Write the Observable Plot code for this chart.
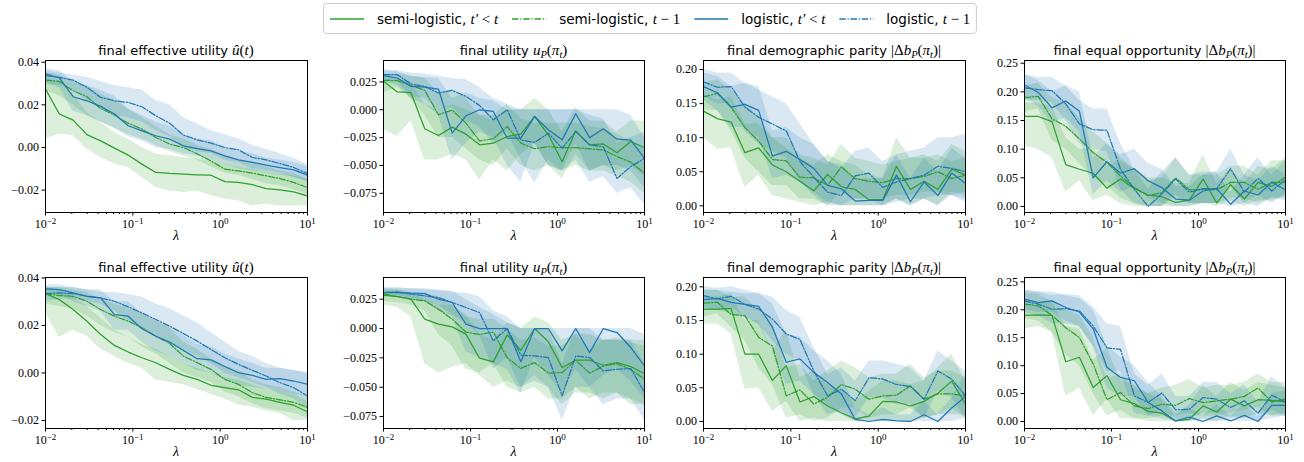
<!DOCTYPE html>
<html><head><meta charset="utf-8">
<script src="https://cdn.jsdelivr.net/npm/d3@7"></script>
<script src="https://cdn.jsdelivr.net/npm/@observablehq/plot@0.6"></script>
<style>
body{margin:0;background:#fff;}
#fig{position:relative;width:1304px;height:462px;overflow:hidden;background:#fff;}
</style></head><body><div id="fig"></div>
<script>
// ---------- shared axes data ----------
const lambdas = [0.01, 0.0144, 0.0207, 0.0298, 0.0428, 0.0616, 0.0886, 0.127, 0.183, 0.264, 0.379, 0.546, 0.785, 1.13, 1.62, 2.34, 3.36, 4.83, 6.95, 10];
const majorTicksX = [0.01, 0.1, 1, 10];
const minorTicksX = [0.02,0.03,0.04,0.05,0.06,0.07,0.08,0.09,0.2,0.3,0.4,0.5,0.6,0.7,0.8,0.9,2,3,4,5,6,7,8,9];
const yTicksEffUtil = [-0.02, 0, 0.02, 0.04];
const yTicksUtil = [-0.075, -0.05, -0.025, 0, 0.025];
const yTicksDP = [0, 0.05, 0.1, 0.15, 0.2];
const yTicksEO = [0, 0.05, 0.1, 0.15, 0.2, 0.25];
const seriesNames = ["semi-logistic, ", "semi-logistic, ", "logistic, ", "logistic, "];
const seriesMath = [
  [["t′","i"],[" < ","n"],["t","i"]],
  [["t","i"],[" − 1","n"]],
  [["t′","i"],[" < ","n"],["t","i"]],
  [["t","i"],[" − 1","n"]]
];
const panelTitles = ["final effective utility ", "final utility ", "final demographic parity ", "final equal opportunity "];
const panelTitleMath = [
  [["û","i"],["(","n"],["t","i"],[")","n"]],
  [["u","i"],["P","isub"],["(","n"],["π","i"],["t","isub"],[")","n"]],
  [["|Δ","n"],["b","i"],["P","isub"],["(","n"],["π","i"],["t","isub"],[")|","n"]],
  [["|Δ","n"],["b","i"],["P","isub"],["(","n"],["π","i"],["t","isub"],[")|","n"]]
];

// ---------- Row 1, final effective utility ----------
const r1EffUtil_semiPast    = [0.0274, 0.0157, 0.0128, 0.0060, 0.0031, -0.0003, -0.0036, -0.0078, -0.0117, -0.0122, -0.0125, -0.0128, -0.0130, -0.0160, -0.0164, -0.0174, -0.0193, -0.0199, -0.0208, -0.0227];
const r1EffUtil_semiPast_lo = [0.0039, 0.0063, 0.0055, -0.0008, -0.0047, -0.0078, -0.0094, -0.0141, -0.0188, -0.0204, -0.0211, -0.0204, -0.0227, -0.0243, -0.0250, -0.0274, -0.0266, -0.0274, -0.0274, -0.0274];
const r1EffUtil_semiPast_hi = [0.0329, 0.0305, 0.0250, 0.0164, 0.0117, 0.0070, 0.0039, 0.0000, -0.0031, -0.0039, -0.0047, -0.0055, -0.0063, -0.0078, -0.0094, -0.0102, -0.0117, -0.0125, -0.0133, -0.0149];
const r1EffUtil_semiLast    = [0.0316, 0.0310, 0.0266, 0.0238, 0.0183, 0.0152, 0.0114, 0.0086, 0.0047, 0.0016, 0.0000, -0.0030, -0.0063, -0.0102, -0.0110, -0.0120, -0.0133, -0.0146, -0.0164, -0.0188];
const r1EffUtil_semiLast_lo = [0.027, 0.024, 0.020, 0.015, 0.012, 0.009, 0.006, 0.004, 0.001, -0.002, -0.004, -0.006, -0.009, -0.012, -0.013, -0.015, -0.017, -0.018, -0.020, -0.022];
const r1EffUtil_semiLast_hi = [0.035, 0.034, 0.031, 0.029, 0.025, 0.022, 0.018, 0.014, 0.010, 0.006, 0.004, 0.001, -0.001, -0.004, -0.006, -0.007, -0.009, -0.011, -0.012, -0.015];
const r1EffUtil_logPast     = [0.0345, 0.0326, 0.0238, 0.0219, 0.0193, 0.0157, 0.0102, 0.0078, 0.0055, 0.0039, 0.0008, -0.0005, -0.0016, -0.0039, -0.0058, -0.0070, -0.0083, -0.0094, -0.0105, -0.0130];
const r1EffUtil_logPast_lo  = [0.030, 0.028, 0.017, 0.015, 0.012, 0.009, 0.005, 0.003, 0.000, -0.001, -0.003, -0.004, -0.006, -0.008, -0.010, -0.011, -0.012, -0.013, -0.014, -0.016];
const r1EffUtil_logPast_hi  = [0.037, 0.036, 0.031, 0.029, 0.027, 0.024, 0.018, 0.015, 0.012, 0.010, 0.006, 0.004, 0.003, 0.000, -0.002, -0.003, -0.005, -0.006, -0.007, -0.009];
const r1EffUtil_logLast     = [0.0337, 0.0329, 0.0316, 0.0282, 0.0235, 0.0219, 0.0211, 0.0191, 0.0149, 0.0114, 0.0058, 0.0036, 0.0020, 0.0000, -0.0011, -0.0047, -0.0058, -0.0075, -0.0094, -0.0122];
const r1EffUtil_logLast_lo  = [0.030, 0.029, 0.027, 0.022, 0.018, 0.015, 0.014, 0.012, 0.008, 0.005, 0.000, -0.002, -0.003, -0.006, -0.007, -0.010, -0.011, -0.012, -0.014, -0.016];
const r1EffUtil_logLast_hi  = [0.036, 0.035, 0.034, 0.033, 0.031, 0.029, 0.028, 0.027, 0.022, 0.020, 0.014, 0.011, 0.008, 0.006, 0.004, 0.001, -0.001, -0.003, -0.005, -0.008];

// ---------- Row 1, final utility ----------
const r1Util_semiPast    = [0.0255, 0.0160, 0.0153, -0.0171, -0.0231, -0.0156, -0.0219, -0.0315, -0.0300, -0.0240, -0.0219, -0.0060, -0.0225, -0.0466, -0.0189, -0.0315, -0.0307, -0.0385, -0.0285, -0.0340];
const r1Util_semiPast_lo = [-0.018, -0.024, -0.010, -0.045, -0.045, -0.040, -0.045, -0.063, -0.045, -0.055, -0.040, -0.030, -0.050, -0.062, -0.040, -0.055, -0.050, -0.055, -0.050, -0.060];
const r1Util_semiPast_hi = [0.030, 0.028, 0.025, 0.005, 0.000, 0.005, 0.000, -0.005, -0.010, 0.000, 0.000, 0.010, 0.000, -0.020, 0.002, -0.010, -0.010, -0.020, -0.010, -0.010];
const r1Util_semiLast    = [0.0264, 0.0261, 0.0219, 0.0174, -0.0045, -0.0003, -0.0120, -0.0280, -0.0260, -0.0150, -0.0300, -0.0350, -0.0330, -0.0340, -0.0340, -0.0350, -0.0360, -0.0420, -0.0470, -0.0570];
const r1Util_semiLast_lo = [0.015, 0.020, 0.010, -0.005, -0.025, -0.025, -0.035, -0.045, -0.050, -0.035, -0.050, -0.055, -0.050, -0.055, -0.050, -0.055, -0.055, -0.060, -0.065, -0.075];
const r1Util_semiLast_hi = [0.032, 0.032, 0.030, 0.028, 0.015, 0.018, 0.010, -0.005, -0.005, 0.005, -0.008, -0.012, -0.012, -0.012, -0.012, -0.015, -0.017, -0.022, -0.028, -0.035];
const r1Util_logPast     = [0.0306, 0.0285, 0.0210, 0.0204, 0.0186, -0.0210, -0.0054, 0.0000, -0.0015, -0.0255, -0.0255, -0.0060, -0.0180, -0.0270, -0.0036, -0.0250, -0.0171, -0.0264, -0.0273, -0.0436];
const r1Util_logPast_lo  = [0.025, 0.022, 0.010, 0.005, -0.005, -0.045, -0.030, -0.020, -0.025, -0.050, -0.065, -0.030, -0.050, -0.055, -0.030, -0.055, -0.050, -0.050, -0.055, -0.070];
const r1Util_logPast_hi  = [0.035, 0.034, 0.030, 0.029, 0.028, 0.010, 0.015, 0.010, 0.008, 0.000, 0.000, 0.000, 0.000, 0.000, 0.000, 0.000, 0.000, 0.000, -0.005, -0.025];
const r1Util_logLast     = [0.0315, 0.0315, 0.0231, 0.0210, 0.0150, 0.0174, 0.0120, 0.0039, -0.0090, 0.0000, -0.0270, -0.0294, -0.0210, -0.0345, -0.0195, -0.0315, -0.0333, -0.0616, -0.0510, -0.0436];
const r1Util_logLast_lo  = [0.025, 0.025, 0.012, 0.010, 0.000, 0.002, -0.010, -0.015, -0.030, -0.020, -0.045, -0.066, -0.045, -0.055, -0.045, -0.065, -0.060, -0.075, -0.070, -0.085];
const r1Util_logLast_hi  = [0.036, 0.035, 0.033, 0.032, 0.030, 0.028, 0.027, 0.020, 0.010, 0.005, 0.000, 0.000, 0.000, 0.000, 0.000, -0.005, -0.008, -0.030, -0.025, -0.020];

// ---------- Row 1, demographic parity ----------
const r1DP_semiPast    = [0.139, 0.128, 0.123, 0.078, 0.085, 0.060, 0.050, 0.036, 0.022, 0.046, 0.028, 0.024, 0.009, 0.009, 0.058, 0.024, 0.036, 0.024, 0.054, 0.045];
const r1DP_semiPast_lo = [0.100, 0.083, 0.085, 0.027, 0.045, 0.015, 0.010, 0.005, 0.000, 0.005, 0.000, 0.000, 0.000, 0.000, 0.010, 0.000, 0.010, 0.000, 0.020, 0.015];
const r1DP_semiPast_hi = [0.165, 0.155, 0.160, 0.120, 0.120, 0.100, 0.085, 0.070, 0.060, 0.075, 0.065, 0.060, 0.045, 0.040, 0.100, 0.070, 0.075, 0.065, 0.090, 0.080];
const r1DP_semiLast    = [0.160, 0.165, 0.145, 0.115, 0.095, 0.068, 0.066, 0.042, 0.041, 0.030, 0.057, 0.040, 0.036, 0.034, 0.040, 0.040, 0.043, 0.050, 0.040, 0.045];
const r1DP_semiLast_lo = [0.140, 0.140, 0.110, 0.070, 0.050, 0.030, 0.030, 0.010, 0.010, 0.000, 0.020, 0.010, 0.010, 0.010, 0.015, 0.015, 0.020, 0.020, 0.015, 0.020];
const r1DP_semiLast_hi = [0.180, 0.185, 0.170, 0.150, 0.130, 0.100, 0.100, 0.075, 0.070, 0.060, 0.090, 0.070, 0.065, 0.060, 0.065, 0.070, 0.070, 0.075, 0.065, 0.070];
const r1DP_logPast     = [0.175, 0.166, 0.145, 0.149, 0.140, 0.073, 0.080, 0.068, 0.055, 0.030, 0.025, 0.007, 0.008, 0.008, 0.045, 0.006, 0.035, 0.015, 0.048, 0.033];
const r1DP_logPast_lo  = [0.155, 0.140, 0.115, 0.115, 0.100, 0.040, 0.045, 0.035, 0.020, 0.005, 0.000, 0.000, 0.000, 0.000, 0.010, 0.000, 0.010, 0.000, 0.015, 0.005];
const r1DP_logPast_hi  = [0.195, 0.190, 0.175, 0.180, 0.175, 0.110, 0.115, 0.100, 0.090, 0.065, 0.060, 0.040, 0.040, 0.040, 0.075, 0.040, 0.070, 0.050, 0.085, 0.070];
const r1DP_logLast     = [0.182, 0.174, 0.175, 0.145, 0.130, 0.120, 0.110, 0.065, 0.042, 0.020, 0.015, 0.044, 0.048, 0.027, 0.035, 0.040, 0.045, 0.058, 0.055, 0.050];
const r1DP_logLast_lo  = [0.160, 0.150, 0.150, 0.110, 0.090, 0.080, 0.070, 0.035, 0.015, 0.000, 0.000, 0.010, 0.010, 0.000, 0.005, 0.010, 0.010, 0.015, 0.015, 0.010];
const r1DP_logLast_hi  = [0.200, 0.195, 0.195, 0.180, 0.170, 0.160, 0.150, 0.120, 0.090, 0.065, 0.055, 0.080, 0.085, 0.065, 0.075, 0.080, 0.085, 0.100, 0.100, 0.105];

// ---------- Row 1, equal opportunity ----------
const r1EO_semiPast    = [0.157, 0.157, 0.148, 0.073, 0.065, 0.058, 0.032, 0.048, 0.031, 0.020, 0.017, 0.007, 0.011, 0.048, 0.006, 0.038, 0.013, 0.042, 0.035, 0.051];
const r1EO_semiPast_lo = [0.105, 0.100, 0.085, 0.025, 0.045, 0.010, 0.020, 0.005, 0.000, 0.000, 0.000, 0.000, 0.000, 0.005, 0.000, 0.010, 0.000, 0.010, 0.010, 0.020];
const r1EO_semiPast_hi = [0.180, 0.180, 0.175, 0.120, 0.100, 0.100, 0.070, 0.080, 0.065, 0.050, 0.050, 0.040, 0.040, 0.090, 0.040, 0.065, 0.040, 0.070, 0.065, 0.085];
const r1EO_semiLast    = [0.190, 0.192, 0.153, 0.140, 0.118, 0.094, 0.077, 0.053, 0.033, 0.019, 0.024, 0.050, 0.029, 0.030, 0.029, 0.042, 0.042, 0.030, 0.042, 0.042];
const r1EO_semiLast_lo = [0.165, 0.170, 0.115, 0.100, 0.075, 0.050, 0.035, 0.015, 0.005, 0.000, 0.000, 0.015, 0.005, 0.005, 0.005, 0.015, 0.015, 0.005, 0.015, 0.015];
const r1EO_semiLast_hi = [0.210, 0.215, 0.190, 0.180, 0.155, 0.130, 0.110, 0.085, 0.065, 0.045, 0.050, 0.085, 0.055, 0.055, 0.055, 0.070, 0.070, 0.055, 0.080, 0.080];
const r1EO_logPast     = [0.212, 0.199, 0.172, 0.184, 0.166, 0.050, 0.078, 0.058, 0.066, 0.045, 0.033, 0.013, 0.011, 0.027, 0.031, 0.004, 0.027, 0.020, 0.042, 0.029];
const r1EO_logPast_lo  = [0.190, 0.175, 0.145, 0.155, 0.130, 0.020, 0.045, 0.025, 0.035, 0.015, 0.005, 0.000, 0.000, 0.005, 0.005, 0.000, 0.005, 0.000, 0.015, 0.010];
const r1EO_logPast_hi  = [0.230, 0.220, 0.200, 0.210, 0.200, 0.085, 0.110, 0.090, 0.100, 0.075, 0.065, 0.035, 0.035, 0.055, 0.060, 0.025, 0.055, 0.045, 0.070, 0.055];
const r1EO_logLast     = [0.207, 0.204, 0.202, 0.179, 0.144, 0.134, 0.133, 0.065, 0.030, 0.000, 0.022, 0.048, 0.025, 0.031, 0.031, 0.066, 0.025, 0.049, 0.027, 0.047];
const r1EO_logLast_lo  = [0.185, 0.185, 0.180, 0.150, 0.110, 0.100, 0.095, 0.030, 0.005, 0.000, 0.000, 0.020, 0.005, 0.005, 0.005, 0.035, 0.005, 0.020, 0.005, 0.020];
const r1EO_logLast_hi  = [0.230, 0.225, 0.225, 0.210, 0.185, 0.170, 0.170, 0.110, 0.065, 0.030, 0.060, 0.085, 0.055, 0.060, 0.060, 0.100, 0.055, 0.085, 0.055, 0.080];

// ---------- Row 2, final effective utility ----------
const r2EffUtil_semiPast    = [0.0334, 0.0309, 0.0267, 0.0218, 0.0162, 0.0116, 0.0088, 0.0064, 0.0043, 0.0015, -0.0010, -0.0027, -0.0052, -0.0062, -0.0071, -0.0103, -0.0110, -0.0124, -0.0136, -0.0164];
const r2EffUtil_semiPast_lo = [0.025, 0.015, 0.018, 0.0155, 0.010, 0.007, 0.004, 0.002, -0.003, -0.004, -0.005, -0.007, -0.009, -0.011, -0.0135, -0.0145, -0.016, -0.017, -0.020, -0.020];
const r2EffUtil_semiPast_hi = [0.036, 0.035, 0.032, 0.028, 0.023, 0.018, 0.015, 0.012, 0.010, 0.007, 0.004, 0.002, 0.000, -0.002, -0.003, -0.005, -0.007, -0.008, -0.009, -0.012];
const r2EffUtil_semiLast    = [0.0334, 0.0326, 0.0323, 0.0302, 0.0267, 0.0239, 0.0218, 0.0190, 0.0155, 0.0124, 0.0071, 0.0043, 0.0015, -0.0027, -0.0048, -0.0083, -0.0103, -0.0113, -0.0124, -0.0145];
const r2EffUtil_semiLast_lo = [0.029, 0.028, 0.027, 0.024, 0.020, 0.017, 0.015, 0.011, 0.008, 0.004, 0.000, -0.002, -0.004, -0.008, -0.010, -0.013, -0.015, -0.016, -0.017, -0.019];
const r2EffUtil_semiLast_hi = [0.036, 0.036, 0.035, 0.034, 0.031, 0.029, 0.027, 0.025, 0.022, 0.019, 0.013, 0.010, 0.006, 0.003, 0.001, -0.003, -0.005, -0.006, -0.008, -0.010];
const r2EffUtil_logPast     = [0.0354, 0.0351, 0.0337, 0.0323, 0.0316, 0.0246, 0.0239, 0.0186, 0.0155, 0.0130, 0.0095, 0.0060, 0.0055, 0.0027, 0.0001, -0.0010, -0.0027, -0.0024, -0.0034, -0.0048];
const r2EffUtil_logPast_lo  = [0.033, 0.033, 0.030, 0.028, 0.026, 0.018, 0.018, 0.013, 0.009, 0.007, 0.004, 0.001, 0.000, -0.003, -0.005, -0.006, -0.007, -0.008, -0.009, -0.010];
const r2EffUtil_logPast_hi  = [0.037, 0.037, 0.036, 0.035, 0.035, 0.030, 0.030, 0.025, 0.022, 0.019, 0.016, 0.012, 0.011, 0.008, 0.006, 0.004, 0.002, 0.002, 0.001, 0.000];
const r2EffUtil_logLast     = [0.0334, 0.0337, 0.0334, 0.0323, 0.0316, 0.0302, 0.0278, 0.0253, 0.0225, 0.0197, 0.0166, 0.0134, 0.0099, 0.0064, 0.0036, 0.0011, -0.0013, -0.0041, -0.0062, -0.0097];
const r2EffUtil_logLast_lo  = [0.030, 0.031, 0.031, 0.030, 0.029, 0.026, 0.022, 0.019, 0.016, 0.013, 0.010, 0.007, 0.004, 0.000, -0.002, -0.004, -0.006, -0.009, -0.011, -0.015];
const r2EffUtil_logLast_hi  = [0.036, 0.036, 0.036, 0.035, 0.034, 0.034, 0.033, 0.032, 0.029, 0.027, 0.024, 0.021, 0.017, 0.013, 0.009, 0.007, 0.004, 0.002, 0.001, 0.000];

// ---------- Row 2, final utility ----------
const r2Util_semiPast    = [0.0284, 0.0273, 0.0250, 0.0080, 0.0037, 0.0014, -0.0048, -0.0253, -0.0284, -0.0054, -0.0185, 0.0000, -0.0114, -0.0332, -0.0270, -0.0270, -0.0313, -0.0290, -0.0324, -0.0384];
const r2Util_semiPast_lo = [0.020, 0.018, 0.010, -0.030, -0.038, -0.033, -0.030, -0.040, -0.050, -0.045, -0.050, -0.040, -0.050, -0.065, -0.055, -0.055, -0.060, -0.055, -0.065, -0.065];
const r2Util_semiPast_hi = [0.032, 0.032, 0.030, 0.025, 0.020, 0.020, 0.012, -0.005, -0.010, 0.005, 0.000, 0.010, 0.005, -0.010, -0.005, -0.005, -0.010, -0.008, -0.010, -0.010];
const r2Util_semiLast    = [0.0293, 0.0273, 0.0250, 0.0236, 0.0165, 0.0080, -0.0030, -0.0050, -0.0030, -0.0250, -0.0340, -0.0290, -0.0380, -0.0375, -0.0270, -0.0380, -0.0320, -0.0300, -0.0350, -0.0430];
const r2Util_semiLast_lo = [0.023, 0.022, 0.020, 0.015, -0.005, -0.015, -0.035, -0.038, -0.030, -0.050, -0.055, -0.050, -0.060, -0.060, -0.050, -0.060, -0.055, -0.055, -0.060, -0.065];
const r2Util_semiLast_hi = [0.034, 0.033, 0.031, 0.030, 0.027, 0.020, 0.010, 0.008, 0.008, 0.000, -0.010, -0.008, -0.015, -0.015, -0.005, -0.018, -0.010, -0.010, -0.012, -0.015];
const r2Util_logPast     = [0.0307, 0.0307, 0.0301, 0.0298, 0.0250, 0.0222, 0.0037, 0.0000, 0.0000, 0.0000, -0.0284, 0.0000, 0.0000, -0.0190, 0.0000, -0.0205, 0.0000, -0.0034, -0.0162, -0.0318];
const r2Util_logPast_lo  = [0.027, 0.027, 0.025, 0.023, 0.015, 0.010, -0.020, -0.025, -0.030, -0.035, -0.055, -0.025, -0.040, -0.055, -0.035, -0.050, -0.040, -0.035, -0.045, -0.060];
const r2Util_logPast_hi  = [0.034, 0.034, 0.034, 0.034, 0.033, 0.032, 0.025, 0.018, 0.012, 0.005, 0.000, 0.000, 0.000, 0.000, 0.000, 0.000, 0.000, 0.000, 0.000, -0.005];
const r2Util_logLast     = [0.0307, 0.0312, 0.0293, 0.0278, 0.0264, 0.0222, 0.0179, 0.0136, -0.0105, 0.0000, -0.0227, -0.0233, -0.0247, -0.0574, -0.0233, -0.0247, -0.0361, -0.0347, -0.0341, -0.0545];
const r2Util_logLast_lo  = [0.027, 0.028, 0.025, 0.023, 0.020, 0.012, 0.005, -0.005, -0.035, -0.025, -0.050, -0.045, -0.050, -0.078, -0.050, -0.050, -0.065, -0.060, -0.060, -0.078];
const r2Util_logLast_hi  = [0.035, 0.035, 0.034, 0.033, 0.032, 0.031, 0.030, 0.027, 0.015, 0.010, 0.000, 0.000, 0.000, -0.030, 0.000, 0.000, -0.010, -0.010, -0.010, -0.030];

// ---------- Row 2, demographic parity ----------
const r2DP_semiPast    = [0.167, 0.167, 0.168, 0.100, 0.100, 0.061, 0.083, 0.029, 0.037, 0.023, 0.013, 0.004, 0.008, 0.030, 0.029, 0.023, 0.030, 0.042, 0.060, 0.026];
const r2DP_semiPast_lo = [0.145, 0.145, 0.130, 0.048, 0.050, 0.015, 0.030, 0.000, 0.005, 0.000, 0.000, 0.000, 0.000, 0.000, 0.000, 0.000, 0.005, 0.010, 0.020, 0.005];
const r2DP_semiPast_hi = [0.185, 0.185, 0.190, 0.150, 0.150, 0.105, 0.135, 0.065, 0.075, 0.055, 0.045, 0.030, 0.045, 0.060, 0.060, 0.055, 0.060, 0.080, 0.100, 0.060];
const r2DP_semiLast    = [0.176, 0.177, 0.159, 0.157, 0.125, 0.112, 0.038, 0.047, 0.026, 0.036, 0.055, 0.048, 0.033, 0.038, 0.039, 0.053, 0.033, 0.041, 0.041, 0.038];
const r2DP_semiLast_lo = [0.155, 0.160, 0.140, 0.120, 0.080, 0.055, 0.005, 0.010, 0.000, 0.005, 0.020, 0.020, 0.005, 0.010, 0.010, 0.020, 0.005, 0.010, 0.010, 0.010];
const r2DP_semiLast_hi = [0.195, 0.195, 0.185, 0.185, 0.165, 0.150, 0.080, 0.085, 0.060, 0.075, 0.090, 0.080, 0.065, 0.070, 0.070, 0.085, 0.065, 0.075, 0.075, 0.065];
const r2DP_logPast     = [0.181, 0.183, 0.177, 0.174, 0.171, 0.140, 0.088, 0.093, 0.073, 0.058, 0.041, 0.003, 0.000, 0.003, 0.001, 0.000, 0.010, 0.000, 0.020, 0.037];
const r2DP_logPast_lo  = [0.165, 0.165, 0.160, 0.155, 0.145, 0.105, 0.055, 0.060, 0.040, 0.025, 0.010, 0.000, 0.000, 0.000, 0.000, 0.000, 0.000, 0.000, 0.000, 0.005];
const r2DP_logPast_hi  = [0.195, 0.195, 0.192, 0.190, 0.190, 0.175, 0.130, 0.125, 0.105, 0.090, 0.070, 0.020, 0.010, 0.020, 0.010, 0.010, 0.030, 0.010, 0.035, 0.070];
const r2DP_logLast     = [0.187, 0.182, 0.186, 0.174, 0.167, 0.152, 0.130, 0.122, 0.075, 0.038, 0.048, 0.031, 0.065, 0.063, 0.055, 0.052, 0.033, 0.075, 0.063, 0.038];
const r2DP_logLast_lo  = [0.170, 0.165, 0.170, 0.155, 0.145, 0.120, 0.100, 0.090, 0.040, 0.010, 0.015, 0.005, 0.035, 0.035, 0.025, 0.025, 0.005, 0.045, 0.035, 0.005];
const r2DP_logLast_hi  = [0.200, 0.198, 0.200, 0.195, 0.190, 0.185, 0.165, 0.155, 0.110, 0.070, 0.080, 0.060, 0.090, 0.090, 0.085, 0.080, 0.060, 0.105, 0.090, 0.075];

// ---------- Row 2, equal opportunity ----------
const r2EO_semiPast    = [0.190, 0.191, 0.190, 0.107, 0.115, 0.061, 0.082, 0.039, 0.032, 0.018, 0.015, 0.001, 0.004, 0.028, 0.017, 0.040, 0.028, 0.039, 0.038, 0.035];
const r2EO_semiPast_lo = [0.165, 0.170, 0.160, 0.045, 0.060, 0.010, 0.040, 0.005, 0.005, 0.000, 0.000, 0.000, 0.000, 0.005, 0.000, 0.010, 0.005, 0.015, 0.010, 0.010];
const r2EO_semiPast_hi = [0.215, 0.212, 0.215, 0.170, 0.165, 0.110, 0.130, 0.075, 0.065, 0.050, 0.040, 0.010, 0.030, 0.065, 0.045, 0.070, 0.055, 0.070, 0.065, 0.060];
const r2EO_semiLast    = [0.210, 0.207, 0.190, 0.168, 0.150, 0.103, 0.039, 0.052, 0.028, 0.023, 0.031, 0.029, 0.041, 0.034, 0.037, 0.040, 0.045, 0.060, 0.035, 0.040];
const r2EO_semiLast_lo = [0.185, 0.180, 0.160, 0.120, 0.100, 0.050, 0.010, 0.020, 0.005, 0.005, 0.010, 0.010, 0.015, 0.010, 0.010, 0.015, 0.020, 0.025, 0.010, 0.015];
const r2EO_semiLast_hi = [0.230, 0.228, 0.215, 0.200, 0.190, 0.150, 0.075, 0.085, 0.060, 0.050, 0.060, 0.065, 0.075, 0.060, 0.065, 0.065, 0.070, 0.085, 0.070, 0.070];
const r2EO_logPast     = [0.219, 0.213, 0.216, 0.204, 0.196, 0.166, 0.097, 0.079, 0.073, 0.034, 0.019, 0.001, 0.008, 0.000, 0.010, 0.001, 0.011, 0.000, 0.029, 0.029];
const r2EO_logPast_lo  = [0.200, 0.195, 0.195, 0.180, 0.170, 0.135, 0.060, 0.045, 0.045, 0.010, 0.005, 0.000, 0.000, 0.000, 0.000, 0.000, 0.000, 0.000, 0.005, 0.010];
const r2EO_logPast_hi  = [0.235, 0.232, 0.232, 0.225, 0.220, 0.200, 0.135, 0.115, 0.100, 0.070, 0.045, 0.015, 0.025, 0.010, 0.030, 0.010, 0.030, 0.010, 0.050, 0.055];
const r2EO_logLast     = [0.216, 0.210, 0.201, 0.202, 0.198, 0.171, 0.132, 0.129, 0.046, 0.034, 0.051, 0.021, 0.022, 0.043, 0.040, 0.025, 0.037, 0.015, 0.047, 0.035];
const r2EO_logLast_lo  = [0.195, 0.190, 0.175, 0.175, 0.170, 0.135, 0.090, 0.090, 0.015, 0.010, 0.020, 0.005, 0.005, 0.015, 0.015, 0.005, 0.010, 0.000, 0.020, 0.010];
const r2EO_logLast_hi  = [0.235, 0.232, 0.225, 0.228, 0.225, 0.205, 0.175, 0.170, 0.085, 0.065, 0.085, 0.045, 0.045, 0.070, 0.070, 0.050, 0.065, 0.035, 0.080, 0.060];

// ---------- panel table ----------
const S = (m, lo, hi) => ({mean: m, lo, hi});
const panels = [
  {row:0, col:0, yDomain:[-0.0305, 0.0408], yTicks:yTicksEffUtil, yFmt:".2f", series:[S(r1EffUtil_semiPast, r1EffUtil_semiPast_lo, r1EffUtil_semiPast_hi), S(r1EffUtil_semiLast, r1EffUtil_semiLast_lo, r1EffUtil_semiLast_hi), S(r1EffUtil_logPast, r1EffUtil_logPast_lo, r1EffUtil_logPast_hi), S(r1EffUtil_logLast, r1EffUtil_logLast_lo, r1EffUtil_logLast_hi)]},
  {row:0, col:1, yDomain:[-0.0922, 0.0442], yTicks:yTicksUtil, yFmt:".3f", series:[S(r1Util_semiPast, r1Util_semiPast_lo, r1Util_semiPast_hi), S(r1Util_semiLast, r1Util_semiLast_lo, r1Util_semiLast_hi), S(r1Util_logPast, r1Util_logPast_lo, r1Util_logPast_hi), S(r1Util_logLast, r1Util_logLast_lo, r1Util_logLast_hi)]},
  {row:0, col:2, yDomain:[-0.0098, 0.2133], yTicks:yTicksDP, yFmt:".2f", series:[S(r1DP_semiPast, r1DP_semiPast_lo, r1DP_semiPast_hi), S(r1DP_semiLast, r1DP_semiLast_lo, r1DP_semiLast_hi), S(r1DP_logPast, r1DP_logPast_lo, r1DP_logPast_hi), S(r1DP_logLast, r1DP_logLast_lo, r1DP_logLast_hi)]},
  {row:0, col:3, yDomain:[-0.0105, 0.2547], yTicks:yTicksEO, yFmt:".2f", series:[S(r1EO_semiPast, r1EO_semiPast_lo, r1EO_semiPast_hi), S(r1EO_semiLast, r1EO_semiLast_lo, r1EO_semiLast_hi), S(r1EO_logPast, r1EO_logPast_lo, r1EO_logPast_hi), S(r1EO_logLast, r1EO_logLast_lo, r1EO_logLast_hi)]},
  {row:1, col:0, yDomain:[-0.0234, 0.0402], yTicks:yTicksEffUtil, yFmt:".2f", series:[S(r2EffUtil_semiPast, r2EffUtil_semiPast_lo, r2EffUtil_semiPast_hi), S(r2EffUtil_semiLast, r2EffUtil_semiLast_lo, r2EffUtil_semiLast_hi), S(r2EffUtil_logPast, r2EffUtil_logPast_lo, r2EffUtil_logPast_hi), S(r2EffUtil_logLast, r2EffUtil_logLast_lo, r2EffUtil_logLast_hi)]},
  {row:1, col:1, yDomain:[-0.0852, 0.0435], yTicks:yTicksUtil, yFmt:".3f", series:[S(r2Util_semiPast, r2Util_semiPast_lo, r2Util_semiPast_hi), S(r2Util_semiLast, r2Util_semiLast_lo, r2Util_semiLast_hi), S(r2Util_logPast, r2Util_logPast_lo, r2Util_logPast_hi), S(r2Util_logLast, r2Util_logLast_lo, r2Util_logLast_hi)]},
  {row:1, col:2, yDomain:[-0.0104, 0.2139], yTicks:yTicksDP, yFmt:".2f", series:[S(r2DP_semiPast, r2DP_semiPast_lo, r2DP_semiPast_hi), S(r2DP_semiLast, r2DP_semiLast_lo, r2DP_semiLast_hi), S(r2DP_logPast, r2DP_logPast_lo, r2DP_logPast_hi), S(r2DP_logLast, r2DP_logLast_lo, r2DP_logLast_hi)]},
  {row:1, col:3, yDomain:[-0.0125, 0.2578], yTicks:yTicksEO, yFmt:".2f", series:[S(r2EO_semiPast, r2EO_semiPast_lo, r2EO_semiPast_hi), S(r2EO_semiLast, r2EO_semiLast_lo, r2EO_semiLast_hi), S(r2EO_logPast, r2EO_logPast_lo, r2EO_logPast_hi), S(r2EO_logLast, r2EO_logLast_lo, r2EO_logLast_hi)]}
];

// ---------- layout & style ----------
const GREEN = "#2ca02c", BLUE = "#1f77b4";
const seriesColor = [GREEN, GREEN, BLUE, BLUE];
const DASHDOT = "6.4,1.8,1.2,1.8";
const seriesDash = [null, DASHDOT, null, DASHDOT];
const colLeft = [45, 383, 703, 1024], colRight = [307, 644, 965, 1285];
const rowTop = [60, 277], rowBottom = [212, 428];
const SERIF = "'Liberation Serif', 'DejaVu Serif', serif";
const SANS = "'DejaVu Sans', sans-serif";

const fig = document.getElementById("fig");

for (const p of panels) {
  const mL = 52, mR = 14, mT = 6, mB = 30;
  const w = colRight[p.col] - colLeft[p.col];
  const h = rowBottom[p.row] - rowTop[p.row];
  const marks = [];
  p.series.forEach((s, k) => {
    const data = lambdas.map((x, i) => ({x, y: s.mean[i], lo: s.lo[i], hi: s.hi[i]}));
    marks.push(Plot.areaY(data, {x: "x", y1: "lo", y2: "hi", fill: seriesColor[k], fillOpacity: 0.17, clip: true}));
  });
  p.series.forEach((s, k) => {
    const data = lambdas.map((x, i) => ({x, y: s.mean[i]}));
    marks.push(Plot.lineY(data, {x: "x", y: "y", stroke: seriesColor[k], strokeWidth: 1.25, strokeDasharray: seriesDash[k] || undefined, clip: true}));
  });
  const yf = d3.format(p.yFmt);
  marks.push(Plot.axisY({ticks: p.yTicks, tickSize: 3.5, tickPadding: 3, tickFormat: yf, label: null, stroke: "black"}));
  marks.push(Plot.axisX({ticks: majorTicksX, tickSize: 3.5, tickPadding: 3.5, tickFormat: d => "10^" + Math.round(Math.log10(d)), label: null, stroke: "black"}));
  marks.push(Plot.axisX({ticks: minorTicksX, tickSize: 2, tickFormat: () => "", label: null, stroke: "black"}));
  marks.push(Plot.frame({stroke: "black", strokeWidth: 1}));
  const svg = Plot.plot({
    width: mL + w + mR, height: mT + h + mB,
    marginLeft: mL, marginRight: mR, marginTop: mT, marginBottom: mB,
    x: {type: "log", domain: [0.01, 10]},
    y: {domain: p.yDomain},
    style: {fontFamily: SERIF, fontSize: "12px", background: "transparent", color: "black", overflow: "visible"},
    marks
  });
  svg.style.position = "absolute";
  svg.style.left = (colLeft[p.col] - mL) + "px";
  svg.style.top = (rowTop[p.row] - mT) + "px";
  // superscript exponents on log tick labels
  d3.select(svg).selectAll('g[aria-label="x-axis tick label"] text').each(function () {
    const s = this.textContent;
    if (s.startsWith("10^")) {
      const e = s.slice(3).replace("-", "−");
      this.textContent = "10";
      d3.select(this).append("tspan").attr("dy", "-0.42em").attr("font-size", "9px").text(e);
    }
  });
  fig.appendChild(svg);
}

// ---------- overlay: titles, axis labels, legend ----------
const ov = d3.select(fig).append("svg")
  .attr("width", 1304).attr("height", 462)
  .style("position", "absolute").style("left", "0px").style("top", "0px").style("overflow", "visible");

function rich(textSel, plain, math, plainSize, mathSize) {
  textSel.append("tspan").attr("font-family", SANS).attr("font-size", plainSize).text(plain);
  let off = 0;
  for (const [str, kind] of math) {
    const isSub = kind.includes("sub");
    const t = textSel.append("tspan").text(str)
      .attr("font-family", SERIF)
      .attr("font-size", isSub ? mathSize * 0.7 : mathSize)
      .attr("font-style", kind.startsWith("i") ? "italic" : "normal");
    const target = isSub ? mathSize * 0.22 : 0;
    if (target !== off) { t.attr("dy", target - off); off = target; }
  }
}

for (const p of panels) {
  const cx = (colLeft[p.col] + colRight[p.col]) / 2;
  const tt = ov.append("text").attr("x", cx).attr("y", rowTop[p.row] - 5).attr("text-anchor", "middle").attr("fill", "black");
  rich(tt, panelTitles[p.col], panelTitleMath[p.col], 13, 15);
  ov.append("text").attr("x", cx).attr("y", rowBottom[p.row] + 28).attr("text-anchor", "middle")
    .attr("font-family", SERIF).attr("font-style", "italic").attr("font-size", 14).text("λ");
}

// legend
const legG = ov.append("g");
const legRect = legG.append("rect").attr("x", 323.5).attr("y", 3.5).attr("height", 30).attr("rx", 3)
  .attr("fill", "white").attr("stroke", "#cccccc").attr("stroke-width", 1);
let lx = 330;
const ly = 19;
seriesNames.forEach((name, k) => {
  legG.append("line").attr("x1", lx).attr("x2", lx + 34).attr("y1", ly).attr("y2", ly)
    .attr("stroke", seriesColor[k]).attr("stroke-width", 1.4).attr("stroke-dasharray", seriesDash[k]);
  const t = legG.append("text").attr("x", lx + 47).attr("y", ly + 5).attr("fill", "black");
  rich(t, name, seriesMath[k], 13.5, 15);
  const tw = t.node().getComputedTextLength();
  lx = lx + 47 + tw + 14;
});
legRect.attr("width", lx - 323.5 - 8);
</script></body></html>
